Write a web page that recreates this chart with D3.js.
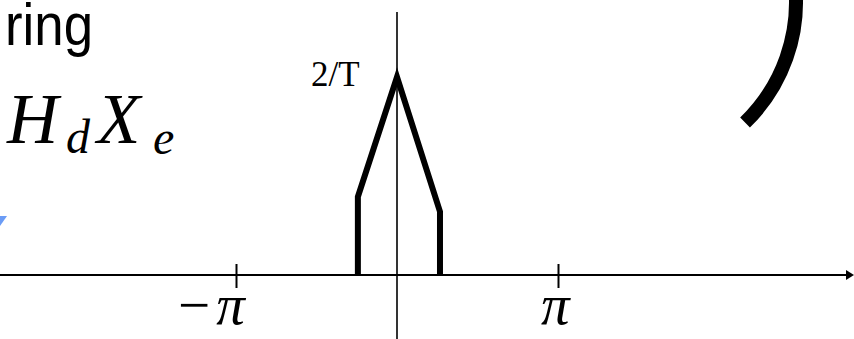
<!DOCTYPE html>
<html>
<head>
<meta charset="utf-8">
<script src="https://cdn.jsdelivr.net/npm/d3@7"></script>
<style>
  html, body { margin: 0; padding: 0; background: #fff; }
  svg { display: block; }
</style>
</head>
<body>
<svg id="chart" width="854" height="339"></svg>
<script>
// Frequency response of the discrete-time filter, H_d X_e, over ω (in multiples of π)
const freq = [-0.243, -0.243, 0, 0.267, 0.267];
const mag  = [0, 0.79, 2, 0.64, 0];          // T = 1, so the peak sits at 2/T
const tickValues = [-1, 1];
const tickLabels = ["\u2212\u03c0", "\u03c0"];
const peakLabel = "2/T";

const W = 854, H = 339;
const svg = d3.select("#chart");

const x = d3.scaleLinear().domain([-1, 1]).range([236, 558]);
const y = d3.scaleLinear().domain([0, 2]).range([275, 77]);
const x0 = x(0), y0 = y(0);

const serif = "Liberation Serif, Times New Roman, serif";

// Title fragment and formula
svg.append("text")
  .attr("x", 5).attr("y", 45)
  .attr("font-family", "Liberation Sans, Arial, sans-serif")
  .attr("font-size", 60)
  .attr("textLength", 88).attr("lengthAdjust", "spacingAndGlyphs")
  .text("ring");

const formula = svg.append("text")
  .attr("y", 143)
  .attr("font-family", serif)
  .attr("font-style", "italic")
  .attr("font-size", 71);
formula.append("tspan").attr("x", 7).text("H");
formula.append("tspan").attr("x", 66).attr("font-size", 48).attr("dy", 10).text("d");
formula.append("tspan").attr("x", 97).attr("dy", -10).text("X");
formula.append("tspan").attr("x", 153).attr("font-size", 48).attr("dy", 11).text("e");

// Small blue arrow tip at the left edge
svg.append("path")
  .attr("d", d3.line()([[-4, 216], [7, 216], [0, 226]]) + "Z")
  .attr("fill", "#6b9cf6");

// Curved bracket on the right
const bracket = d3.path();
bracket.arc(628, 2, 168, -0.12, 0.80);
svg.append("path")
  .attr("d", bracket.toString())
  .attr("fill", "none").attr("stroke", "#000")
  .attr("stroke-width", 14).attr("stroke-linecap", "butt");

// Vertical axis
svg.append("line")
  .attr("x1", x0).attr("x2", x0).attr("y1", 12).attr("y2", H)
  .attr("stroke", "#000").attr("stroke-width", 1.6);

// Horizontal axis with arrowhead
svg.append("line")
  .attr("x1", 0).attr("x2", W - 6).attr("y1", y0).attr("y2", y0)
  .attr("stroke", "#000").attr("stroke-width", 2);
svg.append("path")
  .attr("d", d3.line()([[W - 8, y0 - 5], [W, y0], [W - 8, y0 + 5]]) + "Z")
  .attr("fill", "#000");

// Ticks at ±π
const axis = d3.axisBottom(x)
  .tickValues(tickValues)
  .tickSize(13)
  .tickFormat(() => "");
const gAxis = svg.append("g").attr("transform", `translate(0,${y0})`).call(axis);
gAxis.select(".domain").remove();
gAxis.selectAll(".tick line")
  .attr("y1", -11).attr("stroke", "#000").attr("stroke-width", 2);
gAxis.selectAll(".tick text").remove();

const piLabels = svg.selectAll(".pi-label")
  .data(tickValues)
  .join("text")
  .attr("class", "pi-label")
  .attr("x", d => x(d) + (d < 0 ? -58 : -17))
  .attr("y", 324)
  .attr("font-family", serif)
  .attr("font-size", 57);
piLabels.each(function (d, i) {
  const t = d3.select(this);
  const label = tickLabels[i];
  if (label.length > 1) t.append("tspan").text(label[0]);
  t.append("tspan").attr("font-style", "italic")
    .attr("dx", label.length > 1 ? 6 : 0)
    .text(label[label.length - 1]);
});

// Peak label
svg.append("text")
  .attr("x", 311).attr("y", 86)
  .attr("font-family", serif)
  .attr("font-size", 35)
  .text(peakLabel);

// Response curve
const line = d3.line().x((d, i) => x(freq[i])).y(d => y(d));
svg.append("path")
  .datum(mag)
  .attr("d", line)
  .attr("fill", "none").attr("stroke", "#000")
  .attr("stroke-width", 6).attr("stroke-linejoin", "miter");
</script>
</body>
</html>
